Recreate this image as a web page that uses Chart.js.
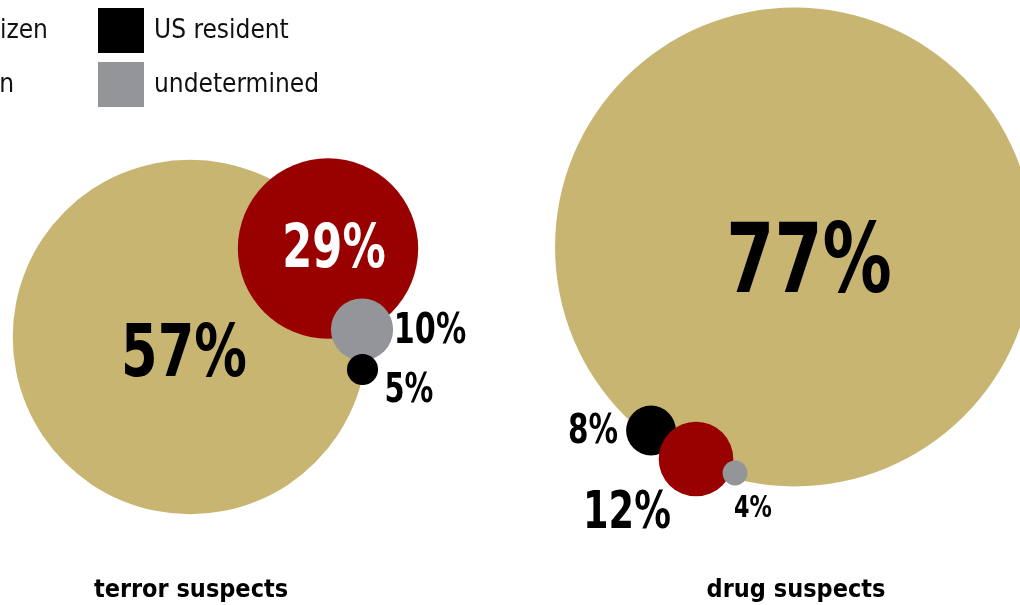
<!DOCTYPE html>
<html lang="en">
<head>
    <meta charset="UTF-8">
    <title>Terror and drug suspects by status</title>
    <style>
        body {
            margin: 0;
            background: #ffffff;
            overflow: hidden;
        }
        .wrap {
            position: relative;
            width: 1020px;
            height: 605px;
        }
        canvas {
            position: absolute;
            left: 0;
            top: 0;
        }
        .legend-item {
            position: absolute;
            height: 45px;
            font-family: "DejaVu Sans Condensed", "Liberation Sans", sans-serif;
            font-size: 26px;
            line-height: 45px;
            color: #111;
            white-space: nowrap;
        }
        .legend-item span.box {
            position: absolute;
            left: 0;
            top: 0;
            width: 46px;
            height: 45px;
        }
        .legend-item span.txt {
            position: absolute;
            left: 56px;
            top: -1px;
        }
    </style>
    <script src="https://cdn.jsdelivr.net/npm/chart.js"></script>
</head>
<body>
<div class="wrap">
    <canvas id="suspects" width="1020" height="605"></canvas>
    <div id="legend"></div>
</div>
<script>
    const groups = ['terror suspects', 'drug suspects'];
    const statuses = ['US citizen', 'foreign', 'US resident', 'undetermined'];
    const terrorShares = [57, 29, 5, 10];
    const drugShares = [77, 12, 8, 4];

    // look & layout
    const statusColors = ['#c8b571', '#990000', '#000000', '#939598'];
    const PX_PER_POINT = 3.11;
    const terrorCentres = [[190, 337], [328, 248.5], [362.5, 369.5], [362, 329.5]];
    const drugCentres = [[794.5, 247], [696, 459], [651, 430.5], [735, 473]];
    const terrorDrawOrder = [0, 1, 3, 2];
    const drugDrawOrder = [0, 2, 1, 3];
    // label centre x, centre y, font size, colour
    const terrorLabels = [[184, 350, 73, '#000'], [334, 245, 60, '#fff'], [409, 388, 40, '#000'], [430, 328, 42, '#000']];
    const drugLabels = [[809, 257, 96, '#000'], [627, 510, 51, '#000'], [593, 428, 41, '#000'], [753, 506, 31, '#000']];
    const LABEL_SQUEEZE = 0.8;
    const groupTitlePos = [[191, 597], [796, 597]];
    const legendSlots = [[-124, 8], [-124, 62], [98, 8], [98, 62]];

    const FONT = '"DejaVu Sans Condensed", "Liberation Sans", sans-serif';

    const shares = [terrorShares, drugShares];
    const centres = [terrorCentres, drugCentres];
    const orders = [terrorDrawOrder, drugDrawOrder];
    const labels = [terrorLabels, drugLabels];

    const datasets = groups.map((g, gi) => ({
        label: g,
        data: orders[gi].map(i => ({
            x: centres[gi][i][0],
            y: centres[gi][i][1],
            r: shares[gi][i] * PX_PER_POINT
        })),
        backgroundColor: orders[gi].map(i => statusColors[i]),
        borderWidth: 0,
        hoverBorderWidth: 0,
        clip: false
    }));

    const labelPlugin = {
        id: 'shareLabels',
        afterDatasetsDraw(chart) {
            const ctx = chart.ctx;
            const xs = chart.scales.x, ys = chart.scales.y;
            ctx.save();
            ctx.textAlign = 'center';
            ctx.textBaseline = 'alphabetic';
            groups.forEach((g, gi) => {
                shares[gi].forEach((v, i) => {
                    const [lx, ly, size, col] = labels[gi][i];
                    ctx.save();
                    ctx.translate(xs.getPixelForValue(lx), ys.getPixelForValue(ly) + size * 0.36);
                    ctx.scale(LABEL_SQUEEZE, 1);
                    ctx.font = 'bold ' + size + 'px ' + FONT;
                    ctx.fillStyle = col;
                    ctx.fillText(v + '%', 0, 0);
                    ctx.restore();
                });
                ctx.font = 'bold 25px ' + FONT;
                ctx.fillStyle = '#000';
                ctx.fillText(g, xs.getPixelForValue(groupTitlePos[gi][0]), ys.getPixelForValue(groupTitlePos[gi][1]));
            });
            ctx.restore();
        }
    };

    new Chart(document.getElementById('suspects'), {
        type: 'bubble',
        data: { datasets: datasets },
        options: {
            responsive: false,
            animation: false,
            events: [],
            layout: { padding: 0, autoPadding: false },
            scales: {
                x: { type: 'linear', min: 0, max: 1020, display: false },
                y: { type: 'linear', min: 0, max: 605, reverse: true, display: false }
            },
            plugins: {
                legend: { display: false },
                tooltip: { enabled: false }
            }
        },
        plugins: [labelPlugin]
    });

    // status legend, first column runs off the left edge
    const legend = document.getElementById('legend');
    statuses.forEach((s, i) => {
        const item = document.createElement('div');
        item.className = 'legend-item';
        item.style.left = legendSlots[i][0] + 'px';
        item.style.top = legendSlots[i][1] + 'px';
        item.innerHTML = '<span class="box" style="background:' + statusColors[i] + '"></span><span class="txt">' + s + '</span>';
        legend.appendChild(item);
    });
</script>
</body>
</html>
